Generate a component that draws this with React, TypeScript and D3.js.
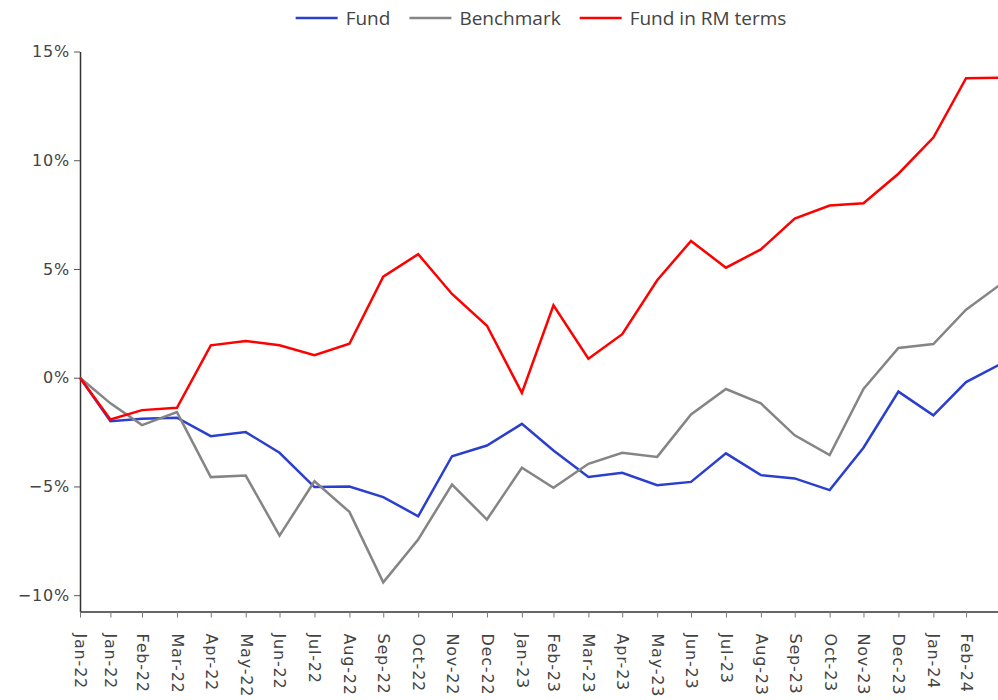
import React, { useEffect, useRef } from 'react';
import * as d3 from 'd3';

// month-end dates (first point is the start of the series)
const dates = [
  '2022-01-04', '2022-01-31', '2022-02-28', '2022-03-31', '2022-04-30', '2022-05-31',
  '2022-06-30', '2022-07-31', '2022-08-31', '2022-09-30', '2022-10-31', '2022-11-30',
  '2022-12-31', '2023-01-31', '2023-02-28', '2023-03-31', '2023-04-30', '2023-05-31',
  '2023-06-30', '2023-07-31', '2023-08-31', '2023-09-30', '2023-10-31', '2023-11-30',
  '2023-12-31', '2024-01-31', '2024-02-29', '2024-03-31'
];

// cumulative returns, %
const fund = [
  0, -2.0, -1.89, -1.84, -2.69, -2.5, -3.45, -5.03, -5.0, -5.49, -6.37, -3.61,
  -3.12, -2.12, -3.35, -4.56, -4.37, -4.94, -4.79, -3.48, -4.48, -4.63, -5.17, -3.22,
  -0.64, -1.73, -0.2, 0.64
];
const benchmark = [
  0, -1.18, -2.18, -1.58, -4.57, -4.5, -7.26, -4.76, -6.17, -9.41, -7.44, -4.91,
  -6.52, -4.14, -5.06, -3.96, -3.45, -3.64, -1.69, -0.52, -1.18, -2.65, -3.56, -0.52,
  1.37, 1.55, 3.13, 4.31
];
const fundRM = [
  0, -1.92, -1.49, -1.38, 1.49, 1.69, 1.49, 1.04, 1.56, 4.65, 5.68, 3.85,
  2.39, -0.7, 3.33, 0.87, 2.0, 4.48, 6.29, 5.06, 5.9, 7.32, 7.92, 8.02,
  9.38, 11.04, 13.77, 13.79
];

const seriesNames = ['Fund', 'Benchmark', 'Fund in RM terms'];
const seriesColors = ['#2b3fce', '#858585', '#ff0000'];
const yTicks = [-0.1, -0.05, 0, 0.05, 0.1, 0.15];

const WIDTH = 998;
const HEIGHT = 700;

const App: React.FC = () => {
  const svgRef = useRef<SVGSVGElement>(null);

  useEffect(() => {
    if (!svgRef.current) return;
    const svg = d3.select(svgRef.current);
    svg.selectAll('*').remove();

    const parse = d3.timeParse('%Y-%m-%d');
    const xs = dates.map(d => parse(d) as Date);

    const x = d3.scaleTime()
      .domain(d3.extent(xs) as [Date, Date])
      .range([80, 1001]);

    const y = d3.scaleLinear()
      .domain([-0.1075, 0.15])
      .range([611.5, 51.5]);

    const font = '"DejaVu Sans", Verdana, sans-serif';

    // y axis
    const yAxis = svg.append('g')
      .attr('transform', `translate(${x.range()[0]},0)`)
      .call(d3.axisLeft(y).tickValues(yTicks).tickFormat(d3.format('.0%')).tickSize(6).tickSizeOuter(0));
    yAxis.select('.domain').attr('stroke', '#333').attr('stroke-width', 1.5);
    yAxis.selectAll('.tick line').attr('stroke', '#555');
    yAxis.selectAll('.tick text')
      .attr('x', -10)
      .style('font-family', font)
      .style('font-size', '16px')
      .style('letter-spacing', '0.8px')
      .attr('fill', '#444');

    // x axis
    const xAxis = svg.append('g')
      .attr('transform', `translate(0,${y.range()[0]})`)
      .call(d3.axisBottom(x)
        .tickValues(xs.slice(0, xs.length - 1))
        .tickFormat(d3.timeFormat('%b-%y') as any)
        .tickSize(6)
        .tickSizeOuter(0));
    xAxis.select('.domain').attr('stroke', '#333').attr('stroke-width', 1.5);
    xAxis.selectAll('.tick line').attr('stroke', '#777');
    xAxis.selectAll('.tick text')
      .attr('transform', 'rotate(90)')
      .attr('x', 22)
      .attr('y', 0)
      .attr('dy', '0.35em')
      .attr('text-anchor', 'start')
      .style('font-family', font)
      .style('font-size', '16px')
      .style('letter-spacing', '0.8px')
      .attr('fill', '#444');

    // lines
    const allSeries = [fund, benchmark, fundRM];
    const line = d3.line<number>()
      .x((_, i) => x(xs[i]))
      .y(d => y(d / 100));

    allSeries.forEach((s, i) => {
      svg.append('path')
        .datum(s)
        .attr('fill', 'none')
        .attr('stroke', seriesColors[i])
        .attr('stroke-width', 2.5)
        .attr('stroke-linejoin', 'miter')
        .attr('d', line);
    });

    // legend, centred at the top
    const legend = svg.append('g').attr('transform', 'translate(0,18)');
    const items = legend.selectAll('g')
      .data(seriesNames)
      .join('g');
    items.append('line')
      .attr('x1', 0).attr('x2', 42)
      .attr('y1', 0).attr('y2', 0)
      .attr('stroke', (_, i) => seriesColors[i])
      .attr('stroke-width', 2.5);
    items.append('text')
      .attr('x', 50)
      .attr('dy', '0.35em')
      .style('font-family', '"Open Sans", "Noto Sans", sans-serif')
      .style('font-size', '19px')
      .attr('fill', '#444')
      .text(d => d);

    let offset = 0;
    const widths: number[] = [];
    items.each(function () {
      const t = d3.select(this).select('text').node() as SVGTextElement;
      widths.push(50 + t.getComputedTextLength());
    });
    const total = d3.sum(widths) + 19 * (widths.length - 1);
    const start = 541 - total / 2;
    items.attr('transform', (_, i) => {
      const tx = start + offset;
      offset += widths[i] + 19;
      return `translate(${tx},0)`;
    });
  }, []);

  return (
    <div style={{ position: 'fixed', left: 0, top: 0, width: WIDTH, height: HEIGHT, background: '#fff', overflow: 'hidden' }}>
      <svg ref={svgRef} width={WIDTH} height={HEIGHT} style={{ display: 'block', overflow: 'hidden' }} />
    </div>
  );
};

export default App;
